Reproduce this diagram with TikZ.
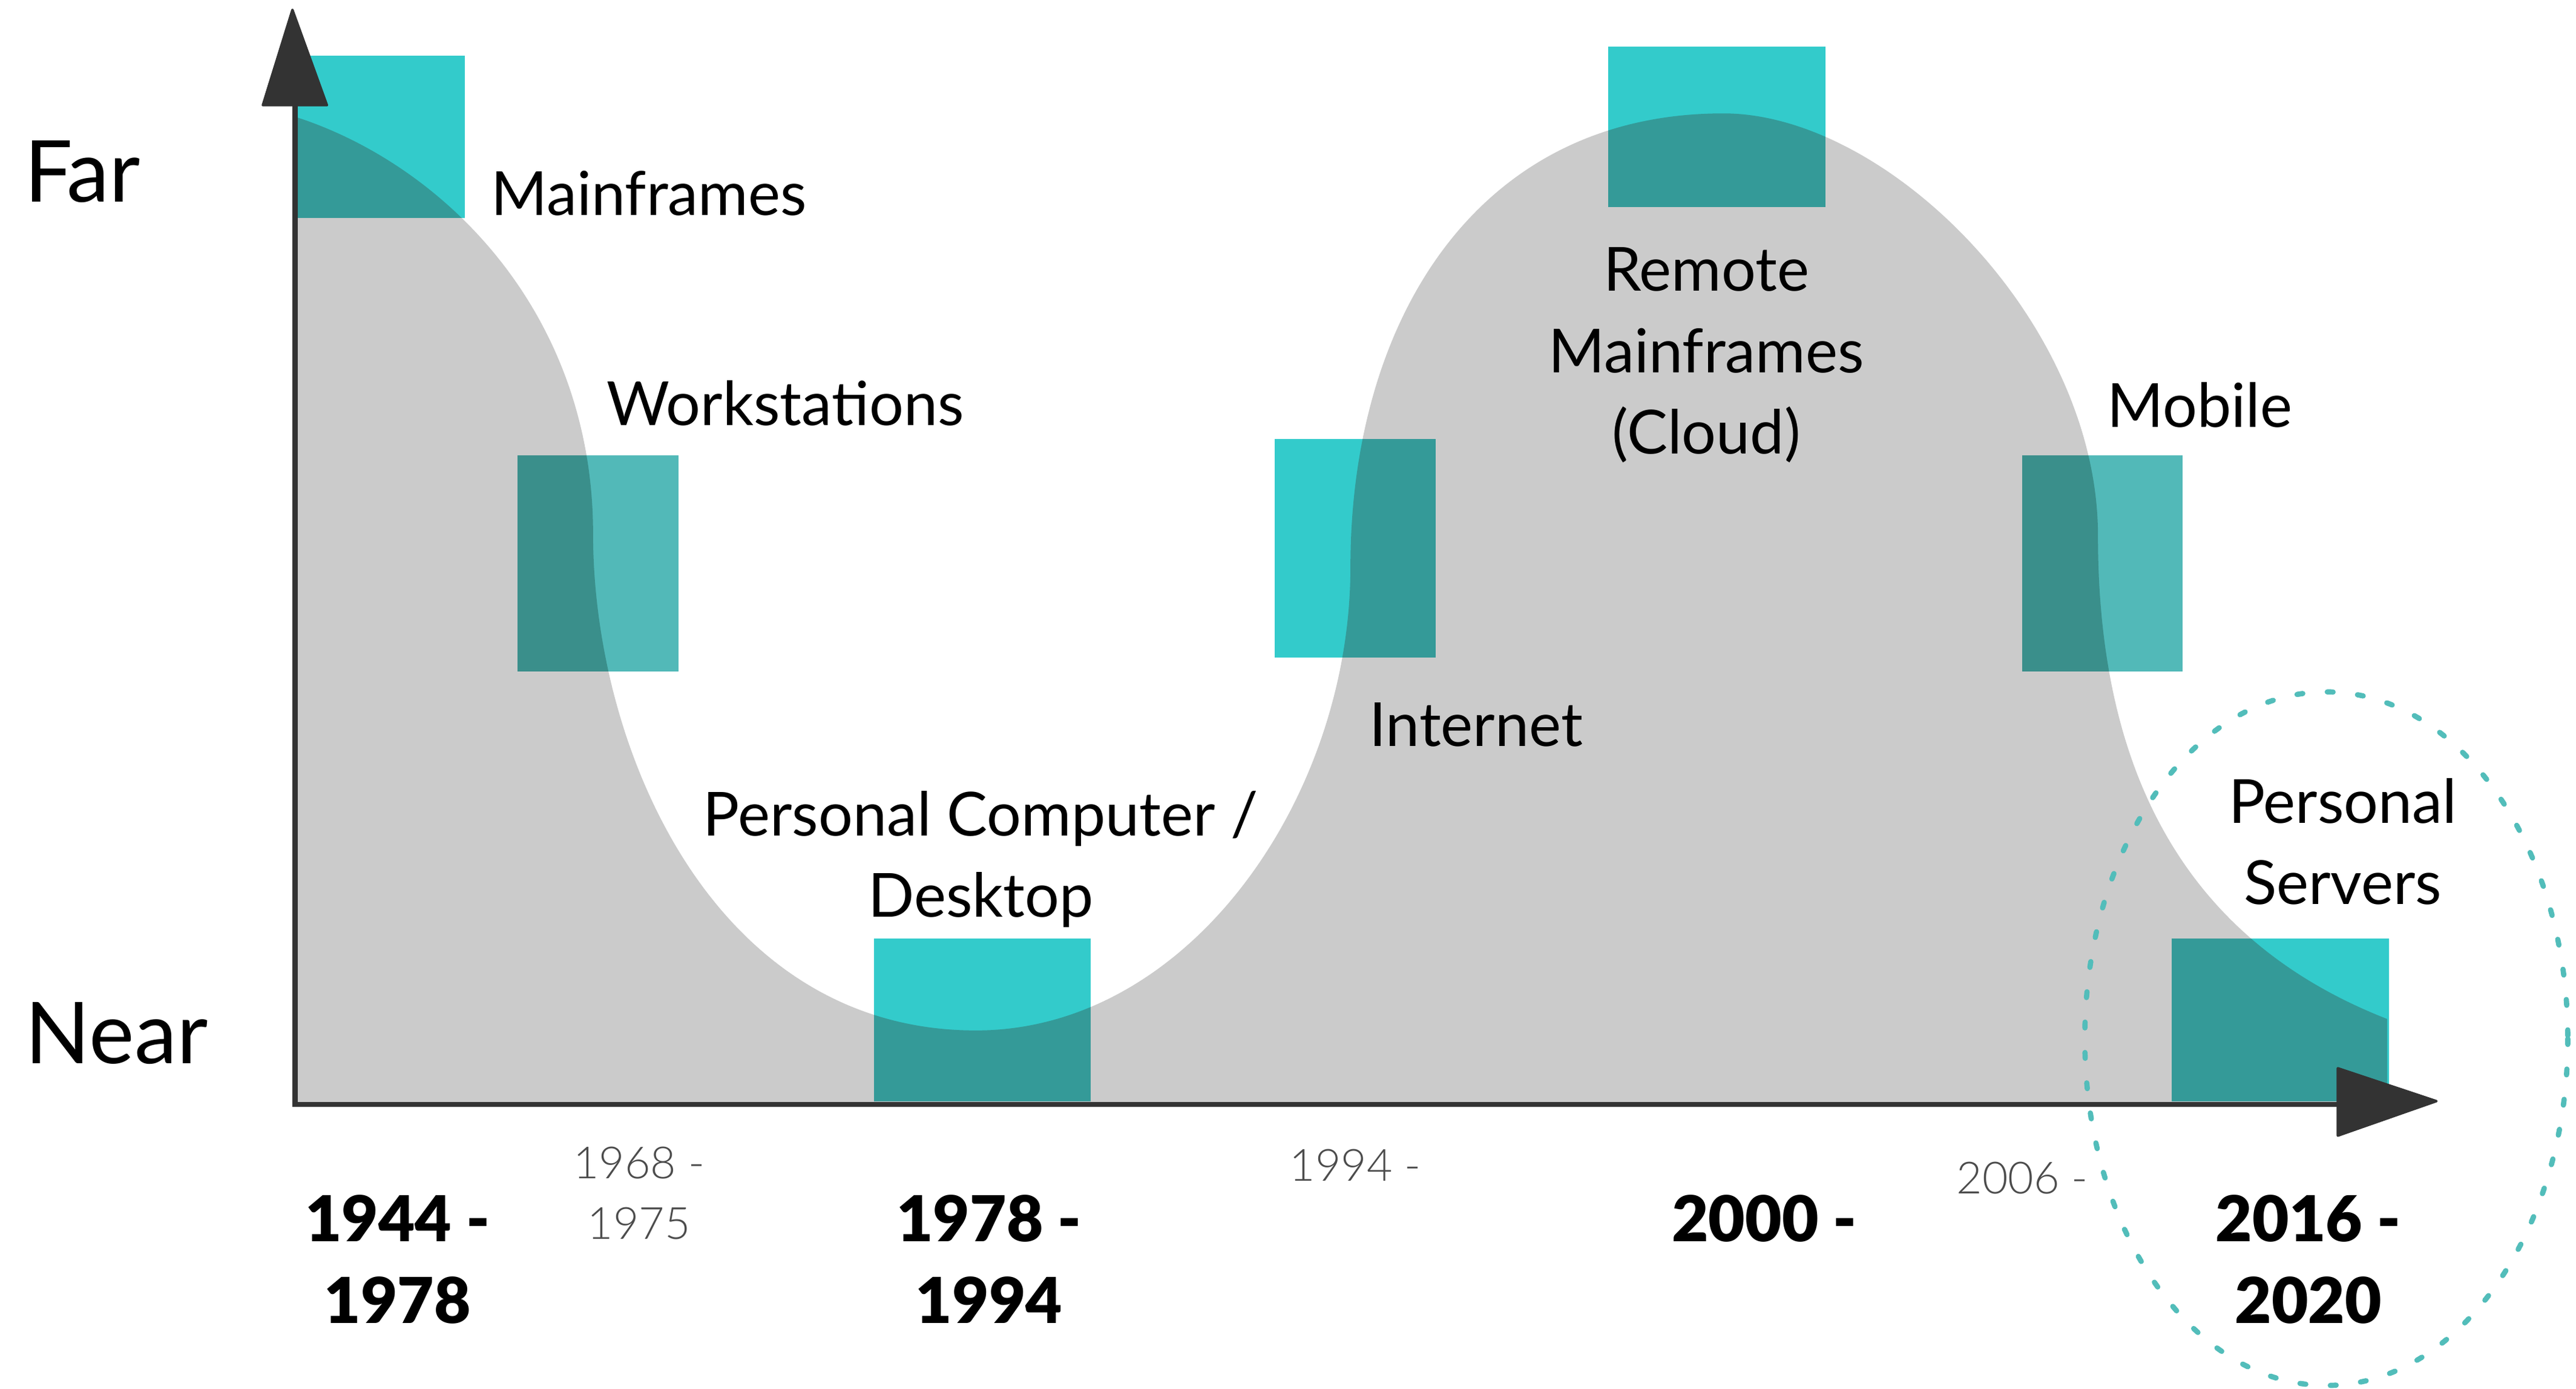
\documentclass[tikz,border=0pt]{standalone}
\usepackage{fontspec}
\setmainfont{Lato}
\IfFontExistsTF{Lato Light}{\newfontfamily\lightfont{Lato Light}}{\newfontfamily\lightfont{Lato}}
\IfFontExistsTF{Lato Black}{\newfontfamily\heavyfont{Lato Black}}{\newcommand\heavyfont{\bfseries}}
\definecolor{cy}{HTML}{33CBCB}
\definecolor{cydark}{HTML}{349A98}
\definecolor{ws}{HTML}{52B9B8}
\definecolor{wsdark}{HTML}{3A8F8B}
\definecolor{bg}{HTML}{CBCBCB}
\definecolor{axis}{HTML}{333333}
\definecolor{dots}{HTML}{52BDBA}
\newcommand\graypath{(179.5,672) -- (179.5,71)
  .. controls (270,100) and (361,190) .. (361,325)
  .. controls (361,455) and (434,627) .. (594,627)
  .. controls (724,627) and (822,485) .. (822,345)
  .. controls (822,195) and (899,69) .. (1049,69)
  .. controls (1149,69) and (1277,196) .. (1277,326)
  .. controls (1277,486) and (1343,577) .. (1453,620)
  -- (1453,672) -- cycle}
\newcommand\tealbox[6]{%
  \fill[#5] (#1,#2) rectangle (#3,#4);
  \begin{scope}\clip \graypath; \fill[#6] (#1,#2) rectangle (#3,#4);\end{scope}}
\begin{document}
\begin{tikzpicture}[x=1pt,y=-1pt,
  lbl/.style={inner sep=0pt, anchor=base, align=center, font=\fontsize{37}{49.4}\selectfont},
  axlbl/.style={inner sep=0pt, anchor=base, font=\fontsize{52}{60}\selectfont},
  yr/.style={inner sep=0pt, anchor=base, align=center, font=\heavyfont\fontsize{38.5}{49.5}\selectfont},
  subyr/.style={inner sep=0pt, anchor=base, align=center, text=black!70, font=\lightfont\fontsize{27}{36.8}\selectfont},
  axisline/.style={draw=axis, line width=3.3pt},
  tip/.style={fill=axis, draw=axis, line width=1.5pt, line join=round},
  ring/.style={draw=dots, line width=3.2pt, line cap=round, dash pattern=on 3.5pt off 15pt}]
\useasboundingbox (0,0) rectangle (1568,844.8);
% background wave
\fill[bg] \graypath;
% boxes
\tealbox{180}{34}{283}{132.6}{cy}{cydark}
\tealbox{315}{277}{413}{408.6}{ws}{wsdark}
\tealbox{532}{571}{664}{670}{cy}{cydark}
\tealbox{776}{267}{874}{400}{cy}{cydark}
\tealbox{979}{28.4}{1111}{126}{cy}{cydark}
\tealbox{1231}{277}{1328.6}{408.6}{ws}{wsdark}
\tealbox{1322}{571}{1454}{670}{cy}{cydark}
% axes
\coordinate (O) at (179.5,672);
\coordinate (Ytop) at (179.5,64);
\coordinate (Xend) at (1423,672);
\draw[axisline] (Ytop) -- (O) -- (Xend);
\filldraw[tip] (160,64) -- (178,6) -- (199,64) -- cycle;
\filldraw[tip] (1423,650) -- (1483,670) -- (1423,691) -- cycle;
% highlight ring
\draw[ring] (1416,632) ellipse [x radius=147, y radius=211];
% axis labels
\node[axlbl] (far) at (50,123) {Far};
\node[axlbl] (near) at (71,647) {Near};
% era labels (anchor = baseline of last line)
\node[lbl] (mainframes) at (395,131) {Mainframes};
\node[lbl] (workstations) at (478,259) {Workstations};
\node[lbl] (pc) at (597,557.9) {Personal Computer /\\Desktop};
\node[lbl] (internet) at (898.5,454) {Internet};
\node[lbl] (cloud) at (1038.6,276) {Remote\\Mainframes\\(Cloud)};
\node[lbl] (mobile) at (1339,260) {Mobile};
\node[lbl] (servers) at (1426,550.3) {Personal\\Servers};
% years
\node[yr] (y1) at (242,805) {1944 -\\1978};
\node[yr] (y2) at (602,805) {1978 -\\1994};
\node[yr] (y3) at (1074,755.5) {2000 -};
\node[yr] (y4) at (1405,805) {2016 -\\2020};
\node[subyr] (s1) at (389,753.8) {1968 -\\1975};
\node[subyr] (s2) at (825,718.5) {1994 -};
\node[subyr] (s3) at (1231,726.3) {2006 -};
\end{tikzpicture}
\end{document}
